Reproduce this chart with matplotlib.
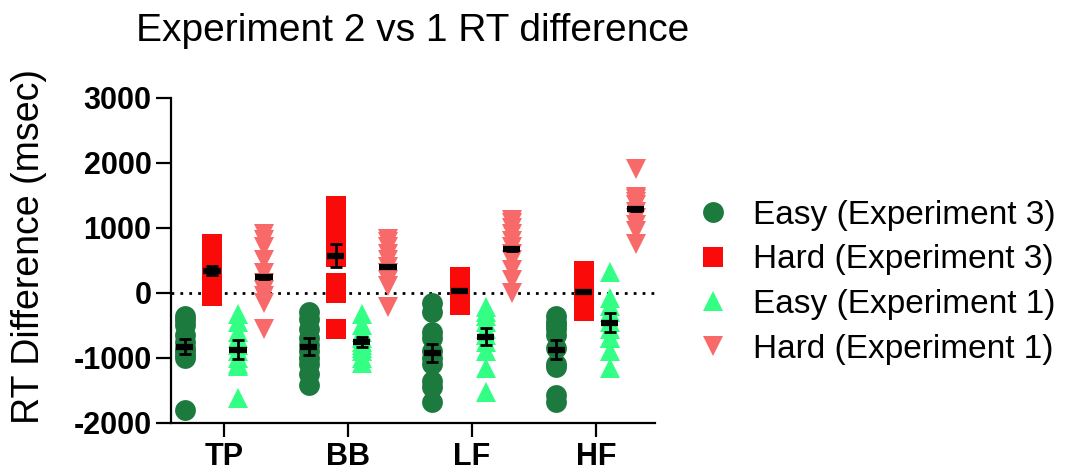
import matplotlib
matplotlib.use('Agg')
import matplotlib.pyplot as plt
from matplotlib.lines import Line2D

plt.rcParams['font.family'] = ['Liberation Sans', 'DejaVu Sans']
plt.rcParams['axes.unicode_minus'] = False

# data (msec)
categories = ['TP', 'BB', 'LF', 'HF']

easy_exp3 = [
    [-350, -420, -500, -650, -750, -850, -900, -950, -1000, -1800],
    [-290, -400, -550, -700, -800, -900, -1000, -1100, -1250, -1415],
    [-150, -300, -600, -700, -900, -1000, -1100, -1350, -1450, -1670],
    [-360, -450, -550, -500, -650, -850, -1100, -1140, -1570, -1670],
]
hard_exp3 = [
    [750, 700, 620, 540, 460, 380, 300, 220, 150, 80, 20, -40],
    [1340, 1250, 1050, 950, 850, 750, 650, 550, 150, 50, 0, -550],
    [240, 200, 150, 100, 50, 0, -50, -100, -150, -185],
    [340, 280, 200, 120, 50, 0, -60, -120, -200, -270],
]
easy_exp1 = [
    [-320, -450, -600, -700, -800, -900, -1000, -1100, -1130, -1620],
    [-320, -500, -600, -700, -750, -800, -850, -900, -1000, -1080],
    [-210, -300, -350, -450, -550, -650, -750, -900, -1150, -1520],
    [330, -70, -200, -300, -450, -550, -700, -700, -900, -1160],
]
hard_exp1 = [
    [900, 820, 700, 500, 300, 150, 50, -50, -150, -550],
    [830, 780, 700, 600, 500, 400, 300, 200, 100, -220],
    [1130, 1080, 1000, 900, 800, 700, 600, 500, 350, 200, 0],
    [1910, 1480, 1450, 1400, 1350, 1250, 1150, 1050, 950, 750],
]

# mean and SEM shown by the black bars
easy_exp3_mean = [-825, -825, -920, -870]
hard_exp3_mean = [340, 575, 35, 15]
easy_exp1_mean = [-870, -750, -670, -455]
hard_exp1_mean = [250, 405, 670, 1290]
easy_exp3_sem = [120, 128, 135, 150]
hard_exp3_sem = [70, 180, 20, 20]
easy_exp1_sem = [140, 80, 133, 150]
hard_exp1_sem = [30, 25, 25, 25]

series = [
    ('Easy (Experiment 3)', easy_exp3, easy_exp3_mean, easy_exp3_sem, 'o', '#1c7a3e', -0.32),
    ('Hard (Experiment 3)', hard_exp3, hard_exp3_mean, hard_exp3_sem, 's', '#fb0a0a', -0.10),
    ('Easy (Experiment 1)', easy_exp1, easy_exp1_mean, easy_exp1_sem, '^', '#33ff85', 0.11),
    ('Hard (Experiment 1)', hard_exp1, hard_exp1_mean, hard_exp1_sem, 'v', '#f86a6a', 0.32),
]

fig = plt.figure(figsize=(10.68, 4.75), dpi=100)
ax = fig.add_axes([0.1601, 0.1095, 0.4532, 0.6842])

ax.axhline(0, color='black', lw=2, ls=(0, (1, 2.2)), zorder=1)

handles = []
for label, groups, means, sems, marker, color, offset in series:
    for i, vals in enumerate(groups):
        x = i + offset
        ax.plot([x] * len(vals), vals, ls='none', marker=marker, ms=15,
                mfc=color, mec=color, mew=0, zorder=2, clip_on=False)
    xs = [i + offset for i in range(len(categories))]
    ax.errorbar(xs, means, yerr=sems, fmt='none', ecolor='black',
                elinewidth=2, capsize=4, capthick=2, zorder=3)
    for x, m in zip(xs, means):
        ax.plot([x - 0.07, x + 0.07], [m, m], color='black', lw=4.5,
                solid_capstyle='butt', zorder=4)
    handles.append(Line2D([], [], ls='none', marker=marker, ms=15,
                          mfc=color, mec=color, mew=0, label=label))

ax.set_xlim(-0.43, 3.476)
ax.set_ylim(-2000, 3000)
ax.set_yticks([-2000, -1000, 0, 1000, 2000, 3000])
ax.set_xticks(range(len(categories)))
ax.set_xticklabels(categories)

for side in ['top', 'right']:
    ax.spines[side].set_visible(False)
for side in ['left', 'bottom']:
    ax.spines[side].set_linewidth(1.6)

ax.tick_params(axis='y', length=11, width=1.6, pad=3, labelsize=22)
ax.tick_params(axis='x', length=10, width=1.6, pad=4, labelsize=22)
for lab in ax.get_xticklabels() + ax.get_yticklabels():
    lab.set_fontweight('bold')

fig.text(0.386, 0.9137, 'Experiment 2 vs 1 RT difference', fontsize=28,
         ha='center', va='baseline')
fig.text(0.027, 0.48, 'RT Difference (msec)', fontsize=27, rotation=90,
         ha='center', va='center')

fig.legend(handles=handles, loc='center left', bbox_to_anchor=(0.652, 0.406),
           frameon=False, fontsize=24, handlelength=1.0, handletextpad=0.69,
           labelspacing=0.41, borderpad=0, borderaxespad=0)

fig.savefig('out.png', dpi=100)
